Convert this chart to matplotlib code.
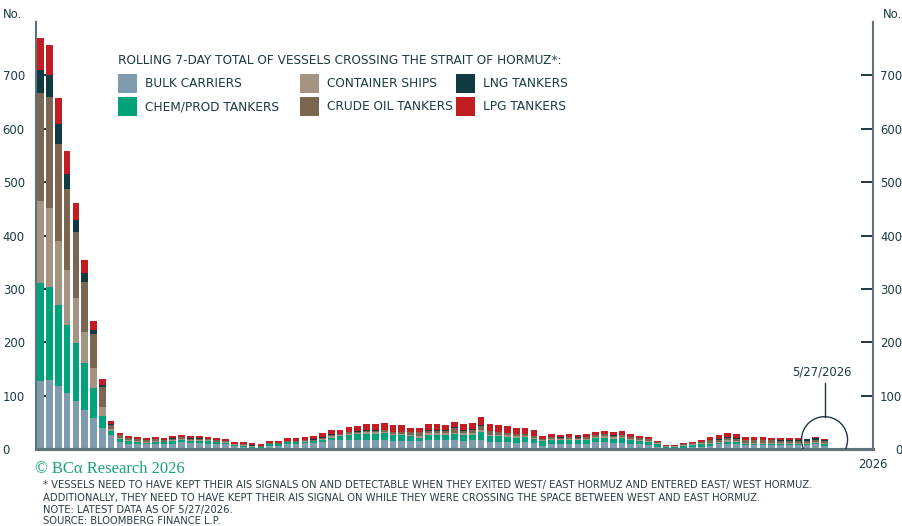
import numpy as np
import pandas as pd
import matplotlib.pyplot as plt
from matplotlib.patches import Rectangle, Ellipse

# Daily rolling 7-day vessel counts, 27 Feb - 27 May 2026
days = pd.date_range("2026-02-27", "2026-05-27", freq="D")

bulk = [127, 130, 118, 106, 91, 73, 59, 40, 26, 14,
        10.5, 10, 9, 10, 9, 10.5, 13, 11, 11, 10.5,
        9.5, 9, 6, 5, 3, 3, 7, 7, 10, 10,
        11, 12, 14, 18, 17, 17, 17, 17, 17, 17,
        15, 15, 15, 15, 17, 17, 17, 17, 16, 17,
        17.5, 14, 14, 13, 12, 13, 11, 6, 9, 9,
        10, 9, 10, 13, 13, 11, 12, 10, 9, 8,
        5, 2, 2, 3, 4, 5, 7, 9, 10.5, 9,
        8, 8, 8, 8, 8, 8, 8, 8, 9, 7]
chem = [184, 173, 152, 127, 107, 88, 56, 23, 9, 5,
        5, 4, 3.5, 4.5, 4, 4.5, 5, 5, 5, 4.5,
        3.5, 3, 2, 2, 2, 1.5, 2, 2, 3, 3,
        3, 3, 4, 4, 7, 10, 11, 12, 12.5, 13,
        11, 11, 10, 7, 10, 10, 10, 11, 11, 10,
        15.5, 10, 10, 10, 10, 10, 9, 9, 9, 8,
        8, 8, 8, 8, 9, 9, 9, 8, 7, 6,
        5, 3, 3, 3.5, 3.5, 4, 3.5, 3, 4, 4,
        2.5, 2.5, 2, 2, 2, 2, 2, 2, 2.5, 2]
container = [153, 149, 120, 103, 85, 58, 37, 16, 3, 2,
             1.5, 1.5, 1.5, 1.5, 1.5, 2, 2, 1.5, 1.5, 1.5,
             1.5, 1, 1, 1, 1, 0.5, 1, 1, 1, 1,
             1, 1, 1.5, 2, 2, 2, 2, 2.5, 2.5, 2.5,
             2.5, 2.5, 2, 2, 3, 3, 3, 3, 3, 3,
             3, 3, 3, 3, 2.5, 2.5, 2, 2, 2, 2,
             2, 2, 2, 2.5, 2.5, 2.5, 2.5, 2, 2, 2,
             1.5, 1, 1, 1, 1.5, 2, 2, 2, 2, 2,
             2, 2, 2, 2, 2, 2, 2, 2, 2, 2]
crude = [202, 207, 182, 152, 124, 95, 63, 38, 8, 5,
         3.5, 3.5, 3, 3, 2.5, 3, 3, 2.5, 2.5, 2.5,
         2.5, 2, 1.5, 1.5, 1, 1, 1.5, 1, 1.5, 1.5,
         1.5, 2, 2.5, 3, 2.5, 3, 3, 3, 3, 3,
         3, 3.5, 5, 8, 5, 5, 5, 9, 5, 7,
         8, 7, 5, 4, 4, 3, 3, 2, 3, 3,
         3, 3, 3, 3, 3.5, 3, 3, 3, 2.5, 2.5,
         2, 1, 1, 1.5, 2, 3, 4, 4, 4, 4.5,
         4.5, 4.5, 4.5, 4.5, 4, 4, 4, 4, 4.5, 4]
lng = [43, 41, 36, 28, 22, 16, 9, 4, 1, 0.5,
       0.5, 0.5, 0.5, 0.5, 0.5, 0.5, 0.5, 0.5, 0.5, 0.5,
       0.5, 0.5, 0, 0.5, 0.5, 0.5, 0.5, 0.5, 0.5, 0.5,
       0.5, 0.5, 0.5, 1, 0.5, 1, 0.5, 1, 1, 1,
       1, 1, 0.5, 0.5, 1, 1, 0.5, 1, 1, 1,
       1, 0.5, 0.5, 0.5, 0.5, 0.5, 0.5, 0.5, 0.5, 0.5,
       0.5, 0.5, 0.5, 1, 1, 1, 1, 0.5, 0.5, 0.5,
       0.5, 0, 0, 0.5, 0.5, 0.5, 1, 1, 2, 1.5,
       1, 1, 1, 1, 1, 1.5, 1.5, 2.5, 3, 2.5]
lpg = [60, 57, 50, 42, 31, 25, 17, 11, 6, 3.5,
       4, 3.5, 3, 3.5, 3, 3.5, 3.5, 3.5, 3.5, 3.5,
       3, 3, 2.5, 4, 3.5, 3.5, 4, 4.5, 6, 6,
       6, 6.5, 7.5, 8, 8, 9, 10, 11, 11, 12,
       12.5, 12, 7.5, 7.5, 12, 12, 10, 11, 10.5, 12,
       15, 12, 13, 12.5, 11, 11, 11, 5.5, 5, 4.5,
       5.5, 4.5, 5, 5, 5, 5, 6, 5, 4, 3.5,
       2, 1, 1, 1.5, 1.5, 2.5, 6, 7, 8, 7.5,
       5.5, 5.5, 5, 4.5, 3.5, 3, 3, 1, 1.5, 1]

series = ["BULK CARRIERS", "CHEM/PROD TANKERS", "CONTAINER SHIPS",
          "CRUDE OIL TANKERS", "LNG TANKERS", "LPG TANKERS"]
colors = ["#7f9bb0", "#00a27a", "#a69482", "#7b6652", "#0f3a42", "#c21d22"]
values = [bulk, chem, container, crude, lng, lpg]

yticks = list(range(0, 800, 100))
ink = "#1c3a42"
axis_grey = "#5c7479"

W, H = 903, 526
fig = plt.figure(figsize=(W / 100, H / 100), dpi=100)
renderer = fig.canvas.get_renderer()

def px(x, y):
    # pixel position from the top-left corner -> figure fraction
    return x / W, 1 - y / H

def fit(t, width):
    # rescale a text so it spans the given width in pixels
    w = t.get_window_extent(renderer).width
    t.set_fontsize(t.get_fontsize() * width / w)
    return t.get_fontsize()

ax = fig.add_axes([36 / W, (H - 449.3) / H, (873 - 36) / W, (449.3 - 21.8) / H])

x = np.arange(len(days))
bottom = np.zeros(len(days))
for name, col, vals in zip(series, colors, values):
    vals = np.array(vals, dtype=float)
    ax.bar(x, vals, width=0.76, bottom=bottom, color=col, linewidth=0, zorder=2)
    bottom += vals

ax.set_xlim(-0.53, 94.5)
ax.set_ylim(0, 800)
ax.set_xticks([])
ax.set_yticks(yticks)

ax2 = ax.twinx()
ax2.set_ylim(0, 800)
ax2.set_yticks(yticks)

for a in (ax, ax2):
    for s in a.spines.values():
        s.set_color(axis_grey)
        s.set_linewidth(1.5)
    a.spines["top"].set_visible(False)
    a.spines["bottom"].set_linewidth(2.2)
ax.spines["right"].set_visible(False)
ax2.spines["left"].set_visible(False)

tick_size = 8.4
ax.tick_params(axis="y", direction="in", length=8.5, width=1.4, color=ink,
               labelsize=tick_size, labelcolor=ink, pad=24)
ax2.tick_params(axis="y", direction="in", length=8.5, width=1.4, color=ink,
                labelsize=tick_size, labelcolor=ink, pad=21)
plt.setp(ax.get_yticklabels(), ha="left")
plt.setp(ax2.get_yticklabels(), ha="right")

fig.text(*px(3, 15), "No.", ha="left", va="center", fontsize=tick_size, color=ink)
fig.text(*px(902, 15), "No.", ha="right", va="center", fontsize=tick_size, color=ink)
fig.text(*px(873, 465), "2026", ha="center", va="center", fontsize=tick_size, color=ink)

# latest data marker
last = x[-1]
ax2.add_patch(Ellipse((last, 18), 46 / 8.81, 46 / 0.5343, fill=False,
                      edgecolor=ink, linewidth=1.0, zorder=5))
ax2.plot([last, last], [61, 124], color=ink, linewidth=1.0, zorder=5)
ax2.text(last - 0.3, 145, "5/27/2026", ha="center", va="center", fontsize=tick_size, color=ink)

# legend
title = fig.text(*px(118, 60.5), "ROLLING 7-DAY TOTAL OF VESSELS CROSSING THE STRAIT OF HORMUZ*:",
                 ha="left", va="center", fontsize=8, color=ink)
legend_size = fit(title, 447)
col_x = [118, 118, 300, 300, 456, 456]
row_y = [83.8, 106.5, 83.8, 106.5, 83.8, 106.5]
for name, col, cx, cy in zip(series, colors, col_x, row_y):
    x0, y0 = px(cx, cy + 9.5)
    fig.add_artist(Rectangle((x0, y0), 19 / W, 19 / H, transform=fig.transFigure,
                             facecolor=col, edgecolor="none"))
    fig.text(*px(cx + 27, cy), name, ha="left", va="center", fontsize=legend_size, color=ink)

# footer
brand = fig.text(*px(35, 469), "© BCα Research 2026", ha="left", va="center",
                 fontsize=10.5, color="#1ba37f", family=["Liberation Serif", "DejaVu Serif"])
fit(brand, 150)

notes = [
    "* VESSELS NEED TO HAVE KEPT THEIR AIS SIGNALS ON AND DETECTABLE WHEN THEY EXITED WEST/ EAST HORMUZ AND ENTERED EAST/ WEST HORMUZ.",
    "ADDITIONALLY, THEY NEED TO HAVE KEPT THEIR AIS SIGNAL ON WHILE THEY WERE CROSSING THE SPACE BETWEEN WEST AND EAST HORMUZ.",
    "NOTE: LATEST DATA AS OF 5/27/2026.",
    "SOURCE: BLOOMBERG FINANCE L.P.",
]
note_y = [485, 497.5, 509.5, 521.5]
note_texts = []
for line, ny in zip(notes, note_y):
    t = fig.text(*px(43, ny), line, ha="left", va="center", fontsize=8, color="#2a3c42",
                 family=["Liberation Sans Narrow", "DejaVu Sans"])
    note_texts.append(t)

# the first footnote line sets the size for all of them
note_size = fit(note_texts[0], 779)
for t in note_texts[1:]:
    t.set_fontsize(note_size)

fig.savefig("out.png", dpi=100)
